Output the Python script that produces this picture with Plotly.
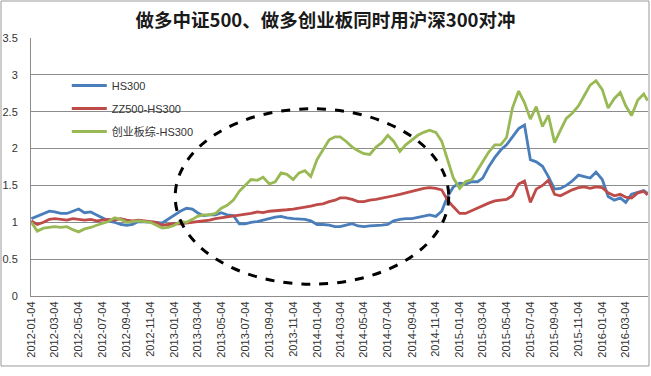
import plotly.graph_objects as go

# ---- data (semi-monthly samples) ----
months = []
for yr in range(2012, 2017):
    for mo in range(1, 13):
        if yr == 2016 and mo > 4:
            break
        months.append((yr, mo))
dates = []
for yr, mo in months:
    dates.append(f"{yr}-{mo:02d}-04")
    dates.append(f"{yr}-{mo:02d}-19")
dates.append("2016-04-29")

hs300 = [1.05, 1.08, 1.11, 1.15, 1.14, 1.12, 1.12, 1.15, 1.18, 1.13,
         1.14, 1.10, 1.06, 1.02, 1.00, 0.97, 0.96, 0.97, 1.01, 1.01,
         1.01, 1.00, 0.99, 1.04, 1.10, 1.15, 1.19, 1.18, 1.13, 1.09,
         1.10, 1.10, 1.13, 1.10, 1.09, 0.98, 0.98, 1.00, 1.01, 1.03,
         1.05, 1.07, 1.08, 1.06, 1.05, 1.05, 1.04, 1.02, 0.97, 0.97,
         0.96, 0.94, 0.94, 0.96, 0.98, 0.95, 0.94, 0.95, 0.95, 0.96,
         0.97, 1.02, 1.04, 1.05, 1.05, 1.07, 1.08, 1.10, 1.08, 1.15,
         1.35, 1.48, 1.53, 1.52, 1.55, 1.55, 1.60, 1.75, 1.88, 1.98,
         2.05, 2.15, 2.27, 2.32, 1.85, 1.82, 1.76, 1.62, 1.45, 1.46,
         1.50, 1.56, 1.64, 1.62, 1.60, 1.68, 1.58, 1.35, 1.30, 1.33,
         1.27, 1.38, 1.41, 1.43, 1.39]

zz500_hs300 = [1.02, 0.97, 1.00, 1.04, 1.05, 1.04, 1.03, 1.05, 1.04, 1.03,
               1.04, 1.02, 1.03, 1.04, 1.03, 1.05, 1.03, 1.02, 1.03, 1.02,
               1.01, 1.00, 0.96, 0.97, 0.98, 0.98, 0.99, 1.00, 1.01, 1.02,
               1.03, 1.05, 1.06, 1.08, 1.09, 1.10, 1.11, 1.12, 1.14, 1.13,
               1.15, 1.16, 1.17, 1.17, 1.18, 1.19, 1.20, 1.22, 1.24, 1.25,
               1.28, 1.30, 1.33, 1.33, 1.31, 1.28, 1.28, 1.30, 1.31, 1.33,
               1.34, 1.36, 1.38, 1.40, 1.42, 1.44, 1.46, 1.47, 1.46, 1.44,
               1.30, 1.21, 1.12, 1.12, 1.16, 1.19, 1.22, 1.26, 1.29, 1.30,
               1.31, 1.36, 1.52, 1.56, 1.27, 1.45, 1.50, 1.57, 1.38, 1.36,
               1.40, 1.44, 1.47, 1.48, 1.46, 1.48, 1.47, 1.40, 1.36, 1.38,
               1.34, 1.33, 1.40, 1.42, 1.37]

cyb_hs300 = [1.00, 0.88, 0.92, 0.93, 0.94, 0.93, 0.94, 0.90, 0.87, 0.91,
             0.93, 0.96, 0.98, 1.01, 1.06, 1.04, 1.00, 1.01, 1.02, 1.01,
             1.00, 0.96, 0.92, 0.93, 0.96, 1.01, 1.00, 1.04, 1.08, 1.10,
             1.10, 1.12, 1.19, 1.23, 1.30, 1.42, 1.50, 1.58, 1.57, 1.61,
             1.52, 1.55, 1.67, 1.65, 1.58, 1.67, 1.70, 1.62, 1.85, 1.98,
             2.12, 2.16, 2.16, 2.10, 2.02, 1.97, 1.93, 1.92, 2.02, 2.08,
             2.18, 2.10, 1.96, 2.05, 2.12, 2.18, 2.22, 2.25, 2.22, 2.10,
             1.85, 1.60, 1.46, 1.55, 1.58, 1.70, 1.82, 1.95, 2.05, 2.05,
             2.15, 2.55, 2.78, 2.62, 2.40, 2.57, 2.30, 2.45, 2.08, 2.25,
             2.41, 2.48, 2.58, 2.72, 2.86, 2.92, 2.80, 2.55, 2.68, 2.76,
             2.58, 2.45, 2.66, 2.74, 2.65]

series_names = ["HS300", "ZZ500-HS300", "创业板综-HS300"]
series_values = [hs300, zz500_hs300, cyb_hs300]
series_colors = ["#4a7ebb", "#be4b48", "#98b954"]

tick_labels = []
for yr, mo in months:
    if mo % 2 == 1:
        tick_labels.append(f"{yr}-{mo:02d}-04")

y_ticks = [0, 0.5, 1, 1.5, 2, 2.5, 3, 3.5]

fig = go.Figure()
for i, (name, vals, col) in enumerate(zip(series_names, series_values, series_colors)):
    fig.add_trace(go.Scatter(
        x=dates, y=vals, mode="lines", name=name,
        line=dict(color=col, width=2.8),
        legendgroup=f"g{i}",
    ))

grid = "#8c8c8c"
fig.update_layout(
    width=651, height=376, autosize=False,
    paper_bgcolor="white", plot_bgcolor="white",
    margin=dict(l=31, r=3, t=38, b=80, pad=0),
    font=dict(family="Arial, 'Liberation Sans', 'Noto Sans CJK SC'", size=11, color="#333333"),
    title=dict(
        text="<b>做多中证500、做多创业板同时用沪深300对冲</b>",
        x=0.5, xanchor="center", y=1 - 21 / 376, yanchor="middle",
        font=dict(family="'Noto Sans CJK SC', Arial", size=18.5, color="#1a1a1a"),
    ),
    legend=dict(
        x=0.058, y=0.872, xanchor="left", yanchor="top",
        bgcolor="rgba(0,0,0,0)", font=dict(size=11, color="#333333"),
        tracegroupgap=4, itemwidth=35,
    ),
    xaxis=dict(
        type="date", range=["2012-01-03", "2016-04-30"], automargin=False,
        tickvals=tick_labels, ticktext=tick_labels, tickangle=-90,
        showgrid=False, showline=True, linecolor=grid, linewidth=1,
        ticks="", tickfont=dict(size=11, color="#333333"),
        zeroline=False,
    ),
    yaxis=dict(
        range=[0, 3.5], tickvals=y_ticks, automargin=False,
        showgrid=True, gridcolor=grid, gridwidth=1,
        showline=True, linecolor=grid, linewidth=1,
        ticks="", ticklabelstandoff=10, zeroline=False,
        tickfont=dict(size=11, color="#333333"),
    ),
    shapes=[
        dict(type="circle", xref="x", yref="y",
             x0="2013-01-06", x1="2014-12-07", y0=0.16, y1=2.54,
             line=dict(color="black", width=3, dash="dash")),
        dict(type="rect", xref="paper", yref="paper",
             x0=-0.0486, x1=1.0016, y0=-0.2713, y1=1.1434,
             line=dict(color="#9a9a9a", width=1)),
    ],
    showlegend=True,
)

fig.write_html("out.html", config={"displayModeBar": False})

# remove the browser's default page margin so the figure sits at (0, 0)
with open("out.html", "r", encoding="utf-8") as f:
    html = f.read()
html = html.replace("<head>", "<head><style>html,body{margin:0;padding:0;overflow:hidden;}</style>", 1)
with open("out.html", "w", encoding="utf-8") as f:
    f.write(html)
